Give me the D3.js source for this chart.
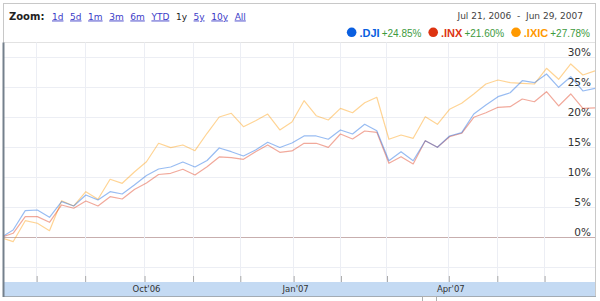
<!DOCTYPE html>
<html>
<head>
<meta charset="utf-8">
<script src="https://cdn.jsdelivr.net/npm/d3@7"></script>
<style>
body { margin: 0; background: #fff; }
svg { display: block; font-family: "DejaVu Sans", sans-serif; }
</style>
</head>
<body>
<script>
// weekly % change since Jul 21, 2006
var dji = [0, 1.25, 4.47, 4.58, 3.37, 5.97, 5.25, 7.08, 6.25, 7.63,
    7.25, 8.75, 10.33, 11.42, 11.75, 12.58, 11.75, 12.83, 14.92, 14.3,
    13.58, 14.58, 15.87, 15.0, 15.75, 16.92, 16.92, 16.37, 17.92, 17.25,
    18.87, 17.8, 12.8, 14.3, 12.8, 16.13, 15.03, 16.92, 17.47, 20.58,
    22.08, 23.47, 24.13, 26.13, 25.8, 27.25, 25.03, 26.8, 24.42, 24.85]
var inx = [0, 0.7, 3.47, 3.47, 2.53, 5.42, 4.87, 6.08, 5.25, 6.8,
    6.42, 8.0, 9.08, 10.5, 10.7, 11.37, 10.42, 11.8, 13.42, 13.3,
    13.03, 14.3, 15.42, 14.2, 14.42, 15.7, 15.7, 15.03, 17.25, 16.42,
    17.75, 17.53, 12.37, 13.47, 12.25, 16.13, 15.03, 16.8, 17.37, 20.03,
    20.8, 21.7, 21.8, 23.08, 22.63, 24.3, 21.92, 23.92, 21.53, 21.6]
var ixic = [0, -0.7, 2.8, 2.37, 1.13, 6.13, 5.25, 7.63, 6.37, 9.7,
    9.03, 10.92, 12.63, 15.7, 14.97, 15.42, 14.47, 17.37, 20.08, 20.7,
    18.47, 19.47, 20.58, 17.92, 19.25, 22.8, 20.3, 19.58, 21.53, 20.8,
    22.47, 23.37, 16.37, 17.08, 16.53, 20.13, 18.87, 21.37, 22.37, 23.92,
    25.58, 26.25, 25.8, 25.7, 25.58, 28.2, 26.37, 28.92, 27.08, 27.78]

var symbols = ['.DJI', '.INX', '.IXIC']
var changes = ['+24.85%', '+21.60%', '+27.78%']
var zoomLinks = ['1d', '5d', '1m', '3m', '6m', 'YTD', '1y', '5y', '10y', 'All']
var activeZoom = '1y'
var dateRange = 'Jul 21, 2006  -  Jun 29, 2007'

// month starts, in weeks from the first point
var monthTicks = [2.9, 6.9, 11.8, 15.8, 19.7, 24.1, 28.0, 31.8, 36.9, 40.9, 44.8]
var monthLabels = ['', '', "Oct'06", '', '', "Jan'07", '', '', "Apr'07", '', '']
var pctTicks = [-5, 0, 5, 10, 15, 20, 25, 30]

var colors = ['#0a5fe0', '#dd3311', '#ff9900']

var W = 600, H = 301
var pLeft = 4, pRight = 595, pTop = 42.5, pBottom = 282

var svg = d3.select('body').append('svg')
    .attr('width', W)
    .attr('height', H)

var x = d3.scaleLinear().domain([0, dji.length - 1]).range([1, pRight])
var y = d3.scaleLinear().domain([-7.42, 32.5]).range([pBottom, pTop])

// outer frame
svg.append('rect')
    .attr('x', 3.5).attr('y', 3.5)
    .attr('width', 592).attr('height', 293)
    .attr('fill', 'none')
    .attr('stroke', '#c8c8c8')

// header: zoom links
svg.append('text')
    .attr('x', 9).attr('y', 19.5)
    .attr('font-size', 10).attr('font-weight', 'bold')
    .attr('fill', '#222')
    .text('Zoom:')

var lx = 52
zoomLinks.forEach(function (z) {
    var t = svg.append('text')
        .attr('x', lx).attr('y', 19.5)
        .attr('font-size', 9)
        .attr('fill', z === activeZoom ? '#222' : '#3c3cc8')
        .attr('text-decoration', z === activeZoom ? 'none' : 'underline')
        .text(z)
    lx += t.node().getComputedTextLength() + 6.6
})

svg.append('text')
    .attr('x', 583).attr('y', 19)
    .attr('text-anchor', 'end')
    .attr('font-size', 9)
    .attr('fill', '#444')
    .style('white-space', 'pre')
    .text(dateRange)

// legend, right aligned
var leg = svg.append('g')
var gx = 0
symbols.forEach(function (s, i) {
    leg.append('circle')
        .attr('cx', gx + 4.8).attr('cy', 32.3).attr('r', 4.8)
        .attr('fill', colors[i])
    var t1 = leg.append('text')
        .attr('x', gx + 12.6).attr('y', 36.5)
        .attr('font-family', 'Liberation Sans, Arial, sans-serif')
        .attr('font-size', 11).attr('font-weight', 'bold')
        .attr('fill', colors[i])
        .text(s)
    var w1 = t1.node().getComputedTextLength()
    var t2 = leg.append('text')
        .attr('x', gx + 12.6 + w1 + 2).attr('y', 36.5)
        .attr('font-family', 'Liberation Sans, Arial, sans-serif')
        .attr('font-size', 10)
        .attr('fill', '#3d9a3d')
        .text(changes[i])
    gx += 12.6 + w1 + 2 + t2.node().getComputedTextLength() + 7
})
leg.attr('transform', 'translate(' + (590 - (gx - 7)) + ',0)')

// plot area
var plot = svg.append('g')

plot.append('line')
    .attr('x1', pLeft).attr('x2', pRight)
    .attr('y1', pTop).attr('y2', pTop)
    .attr('stroke', '#e2e2e2')

// horizontal grid
plot.selectAll('.hgrid')
    .data(pctTicks)
    .enter().append('line')
    .attr('class', 'hgrid')
    .attr('x1', pLeft).attr('x2', pRight)
    .attr('y1', d => Math.round(y(d)) + 0.5)
    .attr('y2', d => Math.round(y(d)) + 0.5)
    .attr('stroke', d => d === 0 ? '#c7aeae' : '#eceef4')

// vertical grid
plot.selectAll('.vgrid')
    .data(monthTicks)
    .enter().append('line')
    .attr('class', 'vgrid')
    .attr('x1', d => Math.round(x(d)) + 0.5)
    .attr('x2', d => Math.round(x(d)) + 0.5)
    .attr('y1', pTop).attr('y2', pBottom)
    .attr('stroke', '#eceef4')

// band under the plot
svg.append('rect')
    .attr('x', pLeft).attr('y', pBottom)
    .attr('width', pRight - pLeft).attr('height', 14)
    .attr('fill', '#c4daf3')
svg.append('line')
    .attr('x1', pLeft).attr('x2', pRight + 1)
    .attr('y1', pBottom + 14.5).attr('y2', pBottom + 14.5)
    .attr('stroke', '#a3abb3')
svg.append('rect')
    .attr('x', 422.5).attr('y', 296.5)
    .attr('width', 14).attr('height', 6)
    .attr('fill', '#fff').attr('stroke', '#b0b0b0')

// x axis
var xAxis = svg.append('g')
    .attr('transform', 'translate(0,' + (pBottom - 6) + ')')
    .call(d3.axisBottom(x)
        .tickValues(monthTicks)
        .tickSize(6)
        .tickPadding(4)
        .tickFormat((d, i) => monthLabels[i]))
xAxis.select('.domain').remove()
xAxis.selectAll('.tick line')
    .attr('stroke', '#aaa')
    .attr('transform', 'translate(0.5,0)')
xAxis.selectAll('.tick text')
    .attr('font-family', 'DejaVu Sans, sans-serif')
    .attr('font-size', 8.5)
    .attr('fill', '#333')
    .attr('dx', 2)

// y axis labels
var yAxis = svg.append('g')
    .attr('transform', 'translate(591,0)')
    .call(d3.axisLeft(y)
        .tickValues(pctTicks.filter(d => d >= 0))
        .tickSize(0)
        .tickPadding(0)
        .tickFormat(d => d + '%'))
yAxis.select('.domain').remove()
yAxis.selectAll('.tick text')
    .attr('font-family', 'DejaVu Sans, sans-serif')
    .attr('font-size', 10.5)
    .attr('fill', '#333')
    .attr('dy', -1.5)

// lines
svg.append('clipPath').attr('id', 'clip')
    .append('rect')
    .attr('x', pLeft).attr('y', pTop)
    .attr('width', pRight - pLeft + 2).attr('height', pBottom - pTop)

var line = d3.line()
    .x((d, i) => x(i))
    .y(d => y(d))

var series = [ixic, inx, dji]
var seriesColors = [colors[2], colors[1], colors[0]]
svg.append('g')
    .attr('clip-path', 'url(#clip)')
    .selectAll('path')
    .data(series)
    .enter().append('path')
    .attr('d', line)
    .attr('fill', 'none')
    .attr('stroke', (d, i) => seriesColors[i])
    .attr('stroke-opacity', 0.42)
    .attr('stroke-width', 1.2)
    .attr('stroke-linejoin', 'round')

// left axis bar
svg.append('line')
    .attr('x1', 3.5).attr('x2', 3.5)
    .attr('y1', pTop).attr('y2', 297)
    .attr('stroke', '#74808c')
    .attr('stroke-width', 2)
</script>
</body>
</html>
